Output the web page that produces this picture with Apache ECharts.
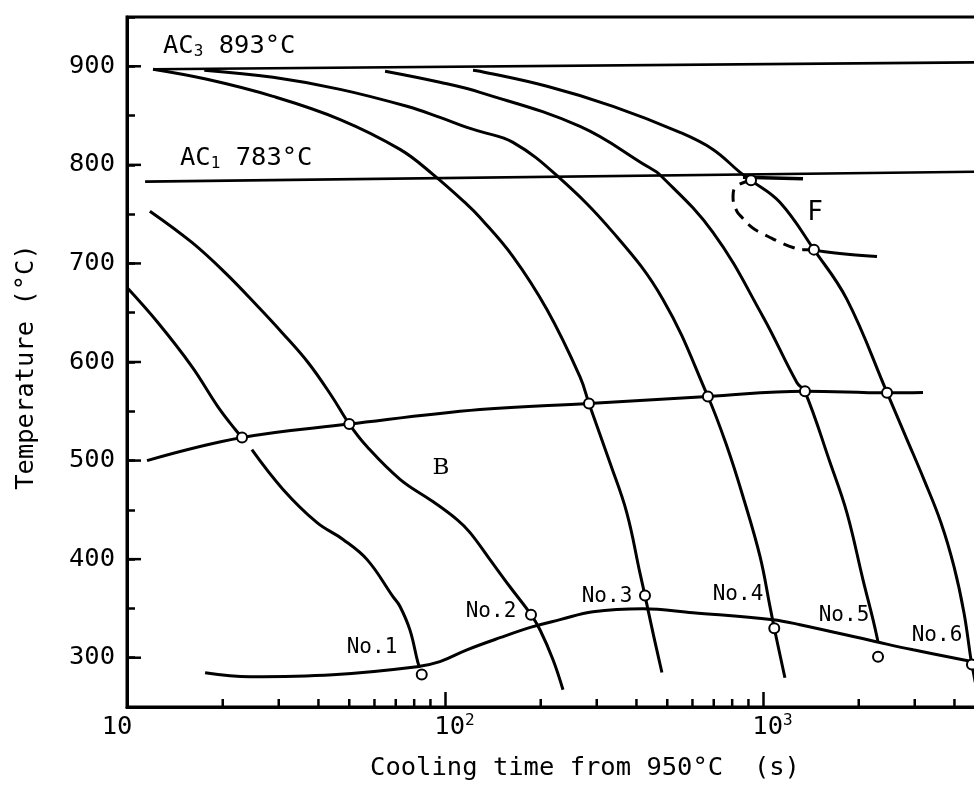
<!DOCTYPE html>
<html><head><meta charset="utf-8">
<script src="https://cdn.jsdelivr.net/npm/echarts@6/dist/echarts.min.js"></script>
<style>html,body{margin:0;padding:0;background:#fff}#c{width:974px;height:785px}</style>
</head><body><div id="c"></div>
<script>
// ---------------- data (time s, temperature °C) ----------------
const ac3Line = [[12.07, 897], [4700, 904]];
const ac1Line = [[11.4, 783], [4700, 793]];
const ac1Nose = [[865, 787.5], [1336, 786]];
const curveNo1a = [[10, 675.6], [12.5, 640.1], [16.0, 595.4], [19.3, 554.8], [21.9, 531.5], [23.0, 523.4]];
const curveNo1b = [[24.7, 511], [30.9, 471], [39.6, 437], [47.8, 420], [56.9, 399.5], [68.6, 362], [72.2, 352], [77.6, 328], [82.2, 295], [83.4, 290]];
const curveNo2 = [[11.8, 753], [16.0, 721.3], [20.3, 690.9], [25.8, 656.3], [30.7, 630], [37.1, 599.5], [44.1, 565], [50.0, 537], [56.9, 514], [72.2, 481], [91.6, 458.4], [109.1, 440.1], [119.9, 426.9], [138.5, 399.5], [160, 372], [186.4, 343.7], [198.9, 328.4], [218.6, 298], [235, 267.5]];
const curveNo3 = [[12.07, 897], [17.85, 886.8], [28.8, 869.5], [46.8, 846], [72.2, 815.7], [91.6, 790.4], [117.2, 760], [128.8, 746.7], [163.6, 707], [209.4, 653], [265.8, 585], [283.6, 558], [330, 498], [373, 447], [410, 386.3], [425.5, 363], [451, 325], [481, 285]];
const curveNo4 = [[17.5, 896], [28.8, 888.8], [46.8, 876.6], [75.9, 859.4], [96.4, 848.2], [117.2, 838], [128.8, 834], [163.6, 822.8], [225, 789], [337.6, 731.5], [484.6, 663.5], [671, 565], [771, 514], [865, 463.5], [979, 402.5], [1052, 351.8], [1085, 330], [1172, 279.7]];
const curveNo5 = [[64.8, 895], [96.4, 883.8], [128.8, 873.6], [265.8, 839], [432, 798.5], [474, 790], [696, 731.5], [1000, 646], [1279, 579], [1355, 570], [1625, 498], [1836, 447], [2063, 379], [2218, 338.6], [2300, 316]];
const curveNo6 = [[122.5, 896], [128.8, 895], [209.4, 879.7], [337.6, 859.4], [548, 833], [696, 815.7], [847, 792.4], [917, 784.3], [1130, 762], [1446, 714], [1836, 663.5], [2455, 569], [2837, 521.3], [3208, 480.7], [3628, 437], [3987, 392.4], [4285, 345.7], [4508, 298], [4540, 293], [4650, 275]];
const bainiteStart = [[11.56, 500], [23.0, 523.4], [50.0, 537], [128.8, 551.8], [283.6, 558], [671, 565], [1355, 570.4], [2455, 568.7], [3185, 569]];
const msLine = [[17.6, 284.8], [24.4, 280.7], [44.4, 282.7], [81.7, 290.9], [96.4, 296], [117.2, 308], [148.9, 320.3], [189, 331.5], [230, 338.6], [292, 346.7], [419, 349.7], [602, 345.7], [1075, 338.6], [1307, 333.5], [2270, 316.2], [2966, 308], [4571, 296]];
const ferriteDashed = [[917, 784.3], [816.6, 777], [805, 767], [828, 752.8], [859, 746.7], [923, 736.5], [979, 731.5], [1067, 725.4], [1131, 721.3], [1242, 716.2], [1336, 714], [1446, 714]];
const ferriteSolid = [[1446, 714], [1545, 712], [1877, 709], [2283, 707]];
const bCircles = [[23.0, 523.4], [50.0, 537], [283.6, 558], [671, 565], [1355, 570.4], [2455, 568.7]];
const endCircles = [[84.5, 283], [186.4, 343.7], [425.5, 363], [1085, 330], [2300, 301], [4540, 293]];
const fCircles = [[917, 784.3], [1446, 714]];
const xMinorTicks = [20, 30, 40, 50, 60, 70, 80, 90, 200, 300, 400, 500, 600, 700, 800, 900, 2000, 3000, 4000, 5000, 6000, 7000, 8000, 9000];
const yMajorTicks = [300, 400, 500, 600, 700, 800, 900];
const curveLabels = ['No.1', 'No.2', 'No.3', 'No.4', 'No.5', 'No.6'];
const xAxisTitle = 'Cooling time from 950°C  (s)';
const yAxisTitle = 'Temperature (°C)';

// ---------------- layout / style ----------------
const MONO = "'DejaVu Sans Mono', monospace";
const FS = 25.5;
const GRID = { left: 127, right: -107, top: 17, bottom: 78 };
const AXIS_X_PX = GRID.left;          // pixel x of the y axis line
const AXIS_Y_PX = 785 - GRID.bottom;  // pixel y of the x axis line
const labelPos = [[372, 648], [491, 612], [607, 597], [738, 595], [844, 616], [937, 636]];

const chart = echarts.init(document.getElementById('c'), null, { renderer: 'canvas' });

function curve(data, extra) {
  return Object.assign({
    type: 'line', data: data, symbol: 'none', showSymbol: false, smooth: 0.4,
    lineStyle: { color: '#000', width: 3 }, z: 2, silent: true
  }, extra || {});
}
function circles(data) {
  return {
    type: 'scatter', data: data, symbol: 'circle', symbolSize: 10, z: 5, silent: true,
    itemStyle: { color: '#fff', borderColor: '#000', borderWidth: 2, opacity: 1 }
  };
}

const series = [
  curve(ac3Line, { smooth: false, lineStyle: { color: '#000', width: 2.6 } }),
  curve(ac1Line, { smooth: false, lineStyle: { color: '#000', width: 2.6 } }),
  curve(ac1Nose, { smooth: false, lineStyle: { color: '#000', width: 3.5 } }),
  curve(curveNo1a), curve(curveNo1b), curve(curveNo2), curve(curveNo3),
  curve(curveNo4), curve(curveNo5), curve(curveNo6),
  curve(bainiteStart), curve(msLine),
  curve(ferriteDashed, { lineStyle: { color: '#000', width: 3, type: [12, 8] } }),
  curve(ferriteSolid),
  circles(bCircles), circles(endCircles), circles(fCircles)
];

const graphics = curveLabels.map((t, i) => ({
  type: 'text', x: labelPos[i][0], y: labelPos[i][1], z: 10,
  style: { text: t, fill: '#000', font: '21px ' + MONO, align: 'center', verticalAlign: 'middle' }
}));
graphics.push(
  { type: 'text', x: 163, y: 46, z: 10, style: {
      text: '{a|AC}{s|3}{a| 893°C}', align: 'left', verticalAlign: 'middle', fill: '#000',
      rich: { a: { fontSize: FS, fontFamily: MONO, lineHeight: 28 },
              s: { fontSize: 16, fontFamily: MONO, lineHeight: 14, verticalAlign: 'bottom' } } } },
  { type: 'text', x: 180, y: 158, z: 10, style: {
      text: '{a|AC}{s|1}{a| 783°C}', align: 'left', verticalAlign: 'middle', fill: '#000',
      rich: { a: { fontSize: FS, fontFamily: MONO, lineHeight: 28 },
              s: { fontSize: 16, fontFamily: MONO, lineHeight: 14, verticalAlign: 'bottom' } } } },
  { type: 'text', x: 815, y: 213, z: 10, style: { text: 'F', fill: '#000', font: '26px ' + MONO, align: 'center', verticalAlign: 'middle' } },
  { type: 'text', x: 441, y: 468, z: 10, style: { text: 'B', fill: '#000', font: "23px 'DejaVu Serif', serif", align: 'center', verticalAlign: 'middle' } }
);

chart.setOption({
  animation: false,
  backgroundColor: '#fff',
  grid: { left: GRID.left, right: GRID.right, top: GRID.top, bottom: GRID.bottom, show: true, borderColor: '#000', borderWidth: 3,
          backgroundColor: 'transparent', containLabel: false, outerBoundsMode: 'none' },
  xAxis: {
    type: 'log', logBase: 10, min: 10, max: 10000,
    name: xAxisTitle, nameLocation: 'middle', nameGap: 48,
    nameTextStyle: { color: '#000', fontSize: FS, fontFamily: MONO, padding: [0, 38, 0, 0] },
    axisLine: { show: true, onZero: false, lineStyle: { color: '#000', width: 3 } },
    axisTick: { show: true, inside: true, length: 15, lineStyle: { color: '#000', width: 2.5 } },
    minorTick: { show: false },
    splitLine: { show: false },
    axisLabel: {
      color: '#000', margin: 6,
      formatter: function (v) {
        const e = Math.round(Math.log10(v));
        if (e === 1) return '{p|10}';
        return '{b|10}{sup|' + e + '}';
      },
      rich: {
        p: { fontSize: FS, fontFamily: MONO, lineHeight: 28, padding: [0, 20, 0, 0] },
        b: { fontSize: FS, fontFamily: MONO, lineHeight: 28, padding: [0, 0, 0, 19] },
        sup: { fontSize: 16, fontFamily: MONO, lineHeight: 20, verticalAlign: 'top' }
      }
    }
  },
  yAxis: {
    type: 'value', min: 250, max: 950, interval: 50,
    name: yAxisTitle, nameLocation: 'middle', nameGap: 88, nameRotate: 90,
    nameTextStyle: { color: '#000', fontSize: FS, fontFamily: MONO, padding: [0, 10, 0, 0] },
    axisLine: { show: true, onZero: false, lineStyle: { color: '#000', width: 3 } },
    axisTick: { show: true, inside: true, length: 8, lineStyle: { color: '#000', width: 2.5 } },
    splitLine: { show: false },
    axisLabel: {
      color: '#000', fontSize: FS, fontFamily: MONO, margin: 12,
      formatter: function (v) { return v % 100 === 0 ? String(v) : ''; }
    }
  },
  series: series
});

// Minor x ticks (2..9 x 10^n) and the longer y ticks at each 100 °C, placed through the axes' scales
const tickGraphics = [];
xMinorTicks.forEach(function (v) {
  const x = chart.convertToPixel({ xAxisIndex: 0 }, v);
  tickGraphics.push({ type: 'rect', z: 20, silent: true,
    shape: { x: x - 1.25, y: AXIS_Y_PX - 8, width: 2.5, height: 8 }, style: { fill: '#000' } });
});
yMajorTicks.forEach(function (v) {
  const y = chart.convertToPixel({ yAxisIndex: 0 }, v);
  tickGraphics.push({ type: 'rect', z: 20, silent: true,
    shape: { x: AXIS_X_PX, y: y - 1.25, width: 14, height: 2.5 }, style: { fill: '#000' } });
});
chart.setOption({ graphic: graphics.concat(tickGraphics) });
</script>
</body></html>
